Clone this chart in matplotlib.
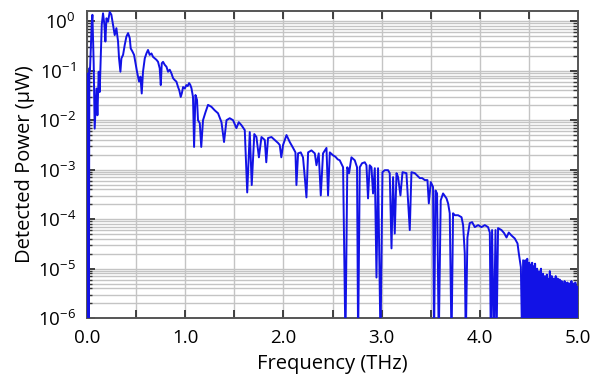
import numpy as np
import matplotlib
matplotlib.use("Agg")
import matplotlib.pyplot as plt
from matplotlib.ticker import MultipleLocator, LogLocator, NullFormatter

plt.rcParams['font.family'] = ['Open Sans', 'DejaVu Sans']
plt.rcParams['mathtext.fontset'] = 'custom'
plt.rcParams['mathtext.rm'] = 'Open Sans'
plt.rcParams['mathtext.it'] = 'Open Sans'

# spectrum: frequency (THz) and log10 of detected power (uW)
# -6.5 marks the dips that run off the bottom of the axis
freq_low = [
    0.000, 0.004, 0.008, 0.013, 0.018, 0.024, 0.030, 0.040, 0.048, 0.055,
    0.068, 0.078, 0.096, 0.106, 0.119, 0.129, 0.140, 0.150, 0.163, 0.177,
    0.187, 0.198, 0.214, 0.231, 0.248, 0.265, 0.282, 0.299, 0.316, 0.326,
    0.340, 0.350, 0.367, 0.384, 0.401, 0.418, 0.435, 0.445, 0.462, 0.479,
    0.496, 0.509, 0.519, 0.530, 0.544, 0.557, 0.570, 0.588, 0.605, 0.621,
    0.638, 0.656, 0.672, 0.689, 0.707, 0.723, 0.740, 0.751, 0.761, 0.774,
    0.791, 0.809, 0.825, 0.842, 0.859, 0.876, 0.893, 0.910, 0.927, 0.940,
    0.954, 0.966, 0.978, 0.995, 1.012, 1.025, 1.039, 1.050, 1.063,
]
logp_low = [
    -6.5, -1.15, -6.5, -1.05, -6.5, -0.95, -1.00, -0.50, -0.05, 0.13,
    -0.86, -2.17, -1.36, -1.90, -1.02, -1.43, -0.68, -0.07, 0.16, -0.07,
    -0.41, 0.06, -0.01, 0.19, 0.13, -0.07, -0.28, -0.14, -0.41, -0.75,
    -1.02, -0.75, -0.68, -0.48, -0.31, -0.24, -0.34, -0.55, -0.61, -0.68,
    -0.88, -1.02, -1.12, -1.22, -1.12, -1.46, -1.02, -0.75, -0.65, -0.58,
    -0.68, -0.65, -0.72, -0.75, -0.78, -0.82, -0.95, -1.29, -0.85, -0.82,
    -0.88, -0.92, -1.02, -0.98, -1.05, -1.15, -1.19, -1.22, -1.33, -1.40,
    -1.53, -1.45, -1.33, -1.36, -1.29, -1.31, -1.25, -1.28, -1.35,
]

freq_mid = [
    1.079, 1.090, 1.104, 1.120, 1.130, 1.148, 1.163, 1.181, 1.206, 1.232,
    1.267, 1.300, 1.334, 1.369, 1.395, 1.420, 1.453, 1.487, 1.521, 1.545,
    1.572, 1.606, 1.631, 1.657, 1.677, 1.703, 1.725, 1.750, 1.776, 1.810,
    1.825, 1.843, 1.878, 1.911, 1.945, 1.962, 1.978, 1.996, 2.031, 2.064,
    2.098, 2.122, 2.132, 2.149, 2.176, 2.199, 2.217, 2.234, 2.251, 2.285,
    2.319, 2.336, 2.359, 2.380, 2.403, 2.438, 2.454, 2.472, 2.505, 2.530,
    2.552, 2.573, 2.607, 2.631, 2.650, 2.668, 2.692, 2.726, 2.749, 2.760,
    2.777, 2.800, 2.828, 2.845, 2.861, 2.878, 2.896, 2.912, 2.930, 2.947,
    2.963, 2.988, 3.008, 3.031, 3.065, 3.082, 3.100, 3.116, 3.133, 3.151,
    3.167, 3.191, 3.212, 3.252, 3.286, 3.303, 3.337, 3.362, 3.388, 3.412,
    3.439, 3.466, 3.480, 3.500, 3.523, 3.533, 3.548, 3.564, 3.581, 3.601,
    3.625, 3.660, 3.676, 3.693, 3.711, 3.727, 3.744, 3.778, 3.813, 3.829,
    3.846, 3.856, 3.873, 3.896, 3.921, 3.948, 3.982, 4.016, 4.050, 4.083,
    4.101, 4.111, 4.124, 4.141, 4.159, 4.169, 4.185, 4.220, 4.246, 4.271,
    4.294, 4.322, 4.355, 4.383, 4.396, 4.417, 4.430, 4.440, 4.457,
]
logp_mid = [
    -1.53, -2.54, -1.49, -1.59, -2.00, -2.06, -2.54, -2.00, -1.84, -1.69,
    -1.73, -1.80, -1.86, -2.04, -2.44, -2.00, -1.96, -2.00, -2.16, -2.04,
    -2.10, -2.20, -3.46, -2.24, -3.31, -2.28, -2.34, -2.75, -2.34, -2.40,
    -2.85, -2.36, -2.34, -2.40, -2.46, -2.50, -2.75, -2.50, -2.30, -2.44,
    -2.56, -2.65, -3.31, -2.67, -2.65, -2.75, -3.15, -3.56, -2.65, -2.61,
    -2.67, -2.91, -2.67, -3.52, -2.67, -2.56, -3.52, -2.65, -2.71, -2.74,
    -2.79, -2.81, -2.95, -6.5, -2.95, -3.07, -2.75, -2.81, -2.95, -6.5,
    -2.95, -2.87, -2.85, -2.91, -3.58, -2.91, -2.95, -3.48, -2.97, -5.18,
    -2.97, -6.5, -3.05, -3.01, -3.01, -3.07, -4.59, -3.15, -4.29, -3.07,
    -3.15, -3.52, -3.05, -3.07, -4.22, -3.05, -3.07, -3.12, -3.17, -3.17,
    -3.21, -3.21, -3.68, -3.25, -3.35, -6.5, -3.42, -3.48, -6.5, -3.62,
    -3.48, -3.58, -3.68, -3.88, -6.5, -3.88, -3.92, -3.92, -3.96, -4.12,
    -4.69, -6.5, -4.37, -4.08, -4.06, -4.16, -4.12, -4.16, -4.12, -4.16,
    -4.27, -6.5, -4.22, -6.5, -4.22, -6.5, -4.18, -4.22, -4.28, -4.37,
    -4.27, -4.33, -4.39, -4.49, -4.69, -4.97, -6.5, -4.83, -6.5,
]

# noise floor above ~4.46 THz
freq_noise = [
    4.462, 4.467, 4.472, 4.477, 4.482, 4.487, 4.492, 4.497, 4.502, 4.507,
    4.512, 4.517, 4.522, 4.527, 4.532, 4.537, 4.542, 4.547, 4.552, 4.557,
    4.562, 4.567, 4.572, 4.577, 4.582, 4.587, 4.592, 4.597, 4.602, 4.607,
    4.612, 4.617, 4.622, 4.627, 4.632, 4.637, 4.642, 4.647, 4.652, 4.657,
    4.662, 4.667, 4.672, 4.677, 4.682, 4.687, 4.692, 4.697, 4.702, 4.707,
    4.712, 4.717, 4.722, 4.727, 4.732, 4.737, 4.742, 4.747, 4.752, 4.757,
    4.762, 4.767, 4.772, 4.777, 4.782, 4.787, 4.792, 4.797, 4.802, 4.807,
    4.812, 4.817, 4.822, 4.827, 4.832, 4.837, 4.842, 4.847, 4.852, 4.857,
    4.862, 4.867, 4.872, 4.877, 4.882, 4.887, 4.892, 4.897, 4.902, 4.907,
    4.912, 4.917, 4.922, 4.927, 4.932, 4.937, 4.942, 4.947, 4.952, 4.957,
    4.962, 4.967, 4.972, 4.977, 4.982, 4.987, 4.992, 4.997, 5.000,
]
logp_noise = [
    -4.83, -6.5, -4.95, -5.9, -4.80, -6.5, -5.00, -6.5, -4.88, -5.7,
    -4.92, -6.5, -5.10, -6.5, -4.88, -6.2, -4.95, -6.5, -5.20, -6.5,
    -4.90, -5.8, -5.05, -6.5, -5.00, -6.5, -5.30, -6.0, -5.05, -6.5,
    -5.15, -6.5, -5.00, -5.6, -5.25, -6.5, -5.10, -6.5, -5.40, -6.5,
    -5.15, -5.9, -5.30, -6.5, -5.12, -6.5, -5.35, -6.1, -5.20, -6.5,
    -5.05, -6.5, -5.30, -5.8, -5.15, -6.5, -5.40, -6.5, -5.20, -6.0,
    -5.28, -6.5, -5.15, -6.5, -5.35, -5.9, -5.20, -6.5, -5.30, -6.5,
    -5.22, -6.2, -5.40, -6.5, -5.25, -6.5, -5.30, -5.8, -5.45, -6.5,
    -5.25, -6.5, -5.40, -6.0, -5.30, -6.5, -5.28, -6.5, -5.45, -5.9,
    -5.30, -6.5, -5.35, -6.5, -5.25, -6.1, -5.40, -6.5, -5.30, -6.5,
    -5.45, -5.85, -5.28, -6.5, -5.35, -6.5, -5.38, -6.5, -5.50,
]

freq = np.array(freq_low + freq_mid + freq_noise)
power = 10.0 ** np.array(logp_low + logp_mid + logp_noise)

fig = plt.figure(figsize=(5.96, 3.88), dpi=100)
ax = fig.add_axes([0.146, 0.180, 0.824, 0.792])

ax.plot(freq, power, color='#1212e6', lw=1.4, zorder=3)

ax.set_yscale('log')
ax.set_xlim(0, 5)
ax.set_ylim(1e-6, 1.62)

ax.xaxis.set_major_locator(MultipleLocator(0.5))
ax.yaxis.set_major_locator(LogLocator(base=10, numticks=10))
ax.yaxis.set_minor_locator(LogLocator(base=10, subs=np.arange(2, 10), numticks=20))
ax.yaxis.set_minor_formatter(NullFormatter())

ax.grid(True, which='major', axis='both', color='#c4c4c4', lw=1.0, zorder=0)
ax.grid(True, which='minor', axis='y', color='#c4c4c4', lw=1.0, zorder=0)

ax.tick_params(which='both', direction='in', top=True, right=True, colors='#333333')
ax.tick_params(which='major', length=6, width=1.3, labelsize=13.5, pad=8, labelcolor='black')
ax.tick_params(which='minor', length=3.5, width=1.0)
for s in ax.spines.values():
    s.set_color('#555555')
    s.set_linewidth(1.4)

# only whole-THz labels on the frequency axis
xt = np.arange(0, 5.01, 0.5)
ax.set_xticks(xt)
ax.set_xticklabels(['%.1f' % v if abs(v - round(v)) < 1e-9 else '' for v in xt])

ax.set_xlabel('Frequency (THz)', fontsize=14.5, labelpad=5)
ax.set_ylabel('Detected Power (\u03bcW)', fontsize=14.5, labelpad=2)

fig.savefig('out.png', dpi=100)
